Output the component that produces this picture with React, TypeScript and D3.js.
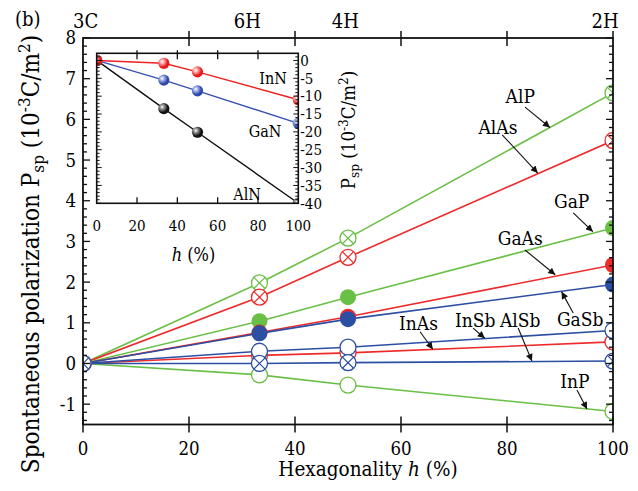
import React from 'react';
import * as d3 from 'd3';

// ==================== DATA ====================
// hexagonality of the polytypes 3C, 6H, 4H, 2H
const hexagonality = [0, 33.3, 50, 100];

// spontaneous polarization, main panel (10^-3 C/m^2)
const AlP = [0, 1.98, 3.08, 6.65];
const AlAs = [0, 1.63, 2.61, 5.48];
const GaP = [0, 1.04, 1.63, 3.33];
const GaAs = [0, 0.76, 1.15, 2.42];
const GaSb = [0, 0.74, 1.09, 1.94];
const InP = [0, -0.28, -0.53, -1.18];
const InAs = [0, 0.2, 0.26, 0.53];
const InSb = [0, 0.3, 0.4, 0.81];
const AlSb = [0, 0.0, 0.02, 0.06];

// inset: nitrides (10^-3 C/m^2)
const InN = [0, -0.8, -3.2, -11];
const GaN = [0, -5.5, -8.5, -17.6];
const AlN = [0, -13.5, -20.1, -40];

const polytypeLabels = ['3C', '6H', '4H', '2H'];
const polytypePos = [0.5, 31, 49.5, 98.5];

const mainXTicks = [0, 20, 40, 60, 80, 100];
const mainYTicks = [-1, 0, 1, 2, 3, 4, 5, 6, 7, 8];
const insetXTicks = [0, 20, 40, 60, 80, 100];
const insetYTicks = [0, -5, -10, -15, -20, -25, -30, -35, -40];

// annotations: label position and arrow from -> to, in data units (h, P)
const annotations = [
  { text: 'AlP', at: [82.5, 6.56], from: [83.4, 6.3], to: [88.1, 5.8] },
  { text: 'AlAs', at: [78.3, 5.8], from: [79.1, 5.62], to: [85.8, 4.68] },
  { text: 'GaP', at: [92.2, 3.98], from: [92.5, 3.7], to: [96.2, 3.24] },
  { text: 'GaAs', at: [82.5, 3.08], from: [83.4, 2.79], to: [89.1, 2.18] },
  { text: 'GaSb', at: [93.8, 1.09], from: [92.5, 1.24], to: [90.3, 1.76] },
  { text: 'InAs', at: [63.3, 0.99], from: [63.6, 0.78], to: [66.0, 0.35] },
  { text: 'InSb', at: [74.0, 1.07], from: [73.6, 0.87], to: [75.8, 0.62] },
  { text: 'AlSb', at: [82.5, 1.07], from: [82.1, 0.87], to: [84.7, 0.06] },
  { text: 'InP', at: [92.8, -0.45], from: [93.2, -0.65], to: [95.1, -1.12] },
];

const insetLabels = [
  { text: 'InN', at: [87.5, -4.9] },
  { text: 'GaN', at: [83.5, -20.0] },
  { text: 'AlN', at: [74.6, -37.4] },
];

const GREEN = '#6abf45';
const RED = '#ee2a2a';
const BLUE = '#2c4fa3';
const FONT = '"DejaVu Serif Condensed", "Liberation Serif", "Times New Roman", serif';

// draw order matters (later on top)
const mainSeries = [
  { name: 'AlP', values: AlP, color: GREEN, kind: 'cross' },
  { name: 'AlAs', values: AlAs, color: RED, kind: 'cross' },
  { name: 'GaP', values: GaP, color: GREEN, kind: 'filled' },
  { name: 'GaAs', values: GaAs, color: RED, kind: 'filled' },
  { name: 'GaSb', values: GaSb, color: BLUE, kind: 'filled' },
  { name: 'InP', values: InP, color: GREEN, kind: 'open' },
  { name: 'InAs', values: InAs, color: RED, kind: 'open' },
  { name: 'InSb', values: InSb, color: BLUE, kind: 'open' },
  { name: 'AlSb', values: AlSb, color: BLUE, kind: 'cross' },
];

const insetSeries = [
  { name: 'AlN', values: AlN, color: '#111111', ball: ['#9a9a9a', '#111111'] },
  { name: 'GaN', values: GaN, color: '#3552b0', ball: ['#aab8ee', '#2d48a8'] },
  { name: 'InN', values: InN, color: '#ee2020', ball: ['#ffb0b0', '#e81a1a'] },
];

// ==================== LAYOUT ====================
const W = 638;
const H = 491;

const x = d3.scaleLinear().domain([0, 100]).range([83, 613]);
const y = d3.scaleLinear().domain([-1.5, 8]).range([424.5, 38]);

const ix = d3.scaleLinear().domain([0, 100]).range([96.7, 298.3]);
const iy = d3.scaleLinear().domain([-40, 2]).range([203.3, 53.3]);

const R = 8;

const Marker = ({ cx, cy, color, kind }) => {
  if (kind === 'filled') return <circle cx={cx} cy={cy} r={R} fill={color} />;
  const k = R * 0.7;
  return (
    <g>
      <circle cx={cx} cy={cy} r={R} fill="#fff" stroke={color} strokeWidth={1.3} />
      {kind === 'cross' && (
        <path
          d={`M${cx - k},${cy - k}L${cx + k},${cy + k}M${cx - k},${cy + k}L${cx + k},${cy - k}`}
          stroke={color}
          strokeWidth={1.2}
        />
      )}
    </g>
  );
};

export default function App() {
  const line = d3.line<number>()
    .x((_, i) => x(hexagonality[i]))
    .y((d) => y(d));
  const insetLine = d3.line<number>()
    .x((_, i) => ix(hexagonality[i]))
    .y((d) => iy(d));

  const leftMinor = d3.range(-14, 81, 2).map((d) => d / 10);
  const insetMinor = d3.range(-40, 2, 1);

  return (
    <svg
      width={W}
      height={H}
      style={{ position: 'absolute', left: 0, top: 0, background: '#fff', fontFamily: FONT }}
    >
      <defs>
        <clipPath id="mainClip">
          <rect x={x(0)} y={y(8)} width={x(100) - x(0)} height={y(-1.5) - y(8)} />
        </clipPath>
        <clipPath id="insetClip">
          <rect x={ix(0)} y={iy(2)} width={ix(100) - ix(0)} height={iy(-40) - iy(2)} />
        </clipPath>
        <marker id="arrow" viewBox="0 0 10 10" refX="10" refY="5" markerWidth="9" markerHeight="7"
          markerUnits="userSpaceOnUse" orient="auto">
          <path d="M0,0L10,5L0,10Z" fill="#111" />
        </marker>
        {insetSeries.map((s) => (
          <radialGradient key={s.name} id={`ball-${s.name}`} cx="0.35" cy="0.35" r="0.7">
            <stop offset="0" stopColor="#ffffff" />
            <stop offset="0.25" stopColor={s.ball[0]} />
            <stop offset="0.7" stopColor={s.ball[1]} />
            <stop offset="1" stopColor={s.ball[1]} />
          </radialGradient>
        ))}
      </defs>

      {/* panel label and polytype labels */}
      <text x={15} y={26} fontSize={20}>(b)</text>
      {polytypeLabels.map((t, i) => (
        <text key={t} x={x(polytypePos[i])} y={28} fontSize={20} textAnchor="middle">{t}</text>
      ))}

      {/* main series */}
      <g clipPath="url(#mainClip)">
        {mainSeries.map((s) => (
          <path key={s.name} d={line(s.values)} fill="none" stroke={s.color} strokeWidth={1.6} />
        ))}
        {mainSeries.map((s) => (
          <g key={s.name}>
            {s.values.map((v, i) => (
              <Marker key={i} cx={x(hexagonality[i])} cy={y(v)} color={s.color} kind={s.kind} />
            ))}
          </g>
        ))}
      </g>

      {/* main frame */}
      <rect x={x(0)} y={y(8)} width={x(100) - x(0)} height={y(-1.5) - y(8)}
        fill="none" stroke="#111" strokeWidth={1.8} />

      {/* left & right minor/major ticks */}
      {leftMinor.map((v) => {
        const major = Math.abs(v - Math.round(v)) < 1e-6;
        const len = major ? 7 : 4;
        return (
          <g key={v} stroke="#111" strokeWidth={1.3}>
            <line x1={x(0)} x2={x(0) + len} y1={y(v)} y2={y(v)} />
            <line x1={x(100)} x2={x(100) - len} y1={y(v)} y2={y(v)} />
          </g>
        );
      })}
      {mainYTicks.map((v) => (
        <text key={v} x={x(0) - 7} y={y(v)} dy="0.35em" fontSize={18.5} textAnchor="end">{v}</text>
      ))}

      {/* bottom & top ticks */}
      {mainXTicks.map((v) => (
        <g key={v} stroke="#111" strokeWidth={1.5}>
          <line x1={x(v)} x2={x(v)} y1={y(-1.5) - 8} y2={y(-1.5) + 8} />
          {v > 0 && v < 100 && <line x1={x(v)} x2={x(v)} y1={y(8) - 7} y2={y(8) + 8} />}
        </g>
      ))}
      <line x1={x(100)} x2={x(100)} y1={y(8) - 7} y2={y(8)} stroke="#111" strokeWidth={1.5} />
      {mainXTicks.map((v) => (
        <text key={v} x={x(v)} y={455} fontSize={18.5} textAnchor="middle">{v}</text>
      ))}

      {/* axis titles */}
      <text x={368} y={476} fontSize={20.5} textAnchor="middle">
        Hexagonality <tspan fontStyle="italic">h</tspan> (%)
      </text>
      <text transform="translate(39,254) rotate(-90)" fontSize={24} textAnchor="middle">
        Spontaneous polarization P<tspan fontSize={17} dy={5}>sp</tspan>
        <tspan dy={-5}> (10</tspan><tspan fontSize={17} dy={-9}>-3</tspan>
        <tspan dy={9}>C/m</tspan><tspan fontSize={17} dy={-9}>2</tspan><tspan dy={9}>)</tspan>
      </text>

      {/* annotations */}
      {annotations.map((a) => (
        <g key={a.text}>
          <text x={x(a.at[0])} y={y(a.at[1])} dy="0.35em" fontSize={19} textAnchor="middle">{a.text}</text>
          <line x1={x(a.from[0])} y1={y(a.from[1])} x2={x(a.to[0])} y2={y(a.to[1])}
            stroke="#111" strokeWidth={1.1} markerEnd="url(#arrow)" />
        </g>
      ))}

      {/* ==================== INSET ==================== */}
      <rect x={ix(0)} y={iy(2)} width={ix(100) - ix(0)} height={iy(-40) - iy(2)} fill="#fff" />
      <g clipPath="url(#insetClip)">
        {insetSeries.map((s) => (
          <path key={s.name} d={insetLine(s.values)} fill="none" stroke={s.color} strokeWidth={1.4} />
        ))}
        {insetSeries.map((s) => (
          <g key={s.name}>
            {s.values.map((v, i) => (
              <circle key={i} cx={ix(hexagonality[i])} cy={iy(v)} r={5.6} fill={`url(#ball-${s.name})`} />
            ))}
          </g>
        ))}
      </g>
      <rect x={ix(0)} y={iy(2)} width={ix(100) - ix(0)} height={iy(-40) - iy(2)}
        fill="none" stroke="#111" strokeWidth={1.6} />
      {insetMinor.map((v) => {
        const len = v % 5 === 0 ? 5 : 3;
        return (
          <g key={v} stroke="#111" strokeWidth={1}>
            <line x1={ix(0)} x2={ix(0) + len} y1={iy(v)} y2={iy(v)} />
            <line x1={ix(100)} x2={ix(100) - len} y1={iy(v)} y2={iy(v)} />
          </g>
        );
      })}
      {insetXTicks.slice(1, -1).map((v) => (
        <g key={v} stroke="#111" strokeWidth={1.3}>
          <line x1={ix(v)} x2={ix(v)} y1={iy(-40)} y2={iy(-40) - 6} />
          <line x1={ix(v)} x2={ix(v)} y1={iy(2) - 3} y2={iy(2) + 6} />
        </g>
      ))}
      {insetXTicks.map((v) => (
        <text key={v} x={ix(v)} y={231} fontSize={15} textAnchor="middle">{v}</text>
      ))}
      {insetYTicks.map((v) => (
        <text key={v} x={ix(100) + 2} y={iy(v)} dy="0.35em" fontSize={15}>{v}</text>
      ))}
      {insetLabels.map((l) => (
        <text key={l.text} x={ix(l.at[0])} y={iy(l.at[1])} dy="0.35em" fontSize={16} textAnchor="middle">{l.text}</text>
      ))}
      <text x={ix(48)} y={261} fontSize={18} textAnchor="middle">
        <tspan fontStyle="italic">h</tspan> (%)
      </text>
      <text transform="translate(355,130) rotate(-90)" fontSize={18.5} textAnchor="middle">
        P<tspan fontSize={13.5} dy={4}>sp</tspan><tspan dy={-4}> (10</tspan>
        <tspan fontSize={13.5} dy={-7}>-3</tspan><tspan dy={7}>C/m</tspan>
        <tspan fontSize={13.5} dy={-7}>2</tspan><tspan dy={7}>)</tspan>
      </text>
    </svg>
  );
}
